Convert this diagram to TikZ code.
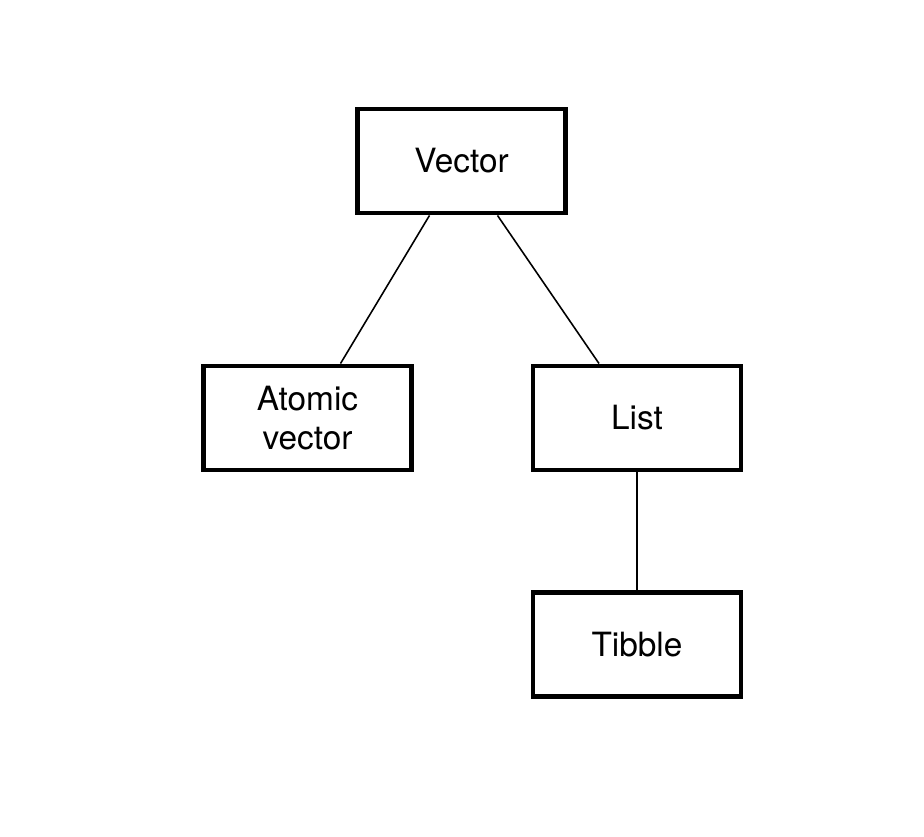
\documentclass[tikz,border=0pt]{standalone}
\usepackage{fontspec}
\setmainfont{TeX Gyre Heros}
\usetikzlibrary{positioning}

\begin{document}
\begin{tikzpicture}[x=0.02cm,y=-0.02cm,
    typebox/.style={draw,line width=2.8pt,minimum width=4.16cm,minimum height=2.08cm,
      inner sep=0pt,align=center,font=\fontsize{19}{21.8}\selectfont}]
  \useasboundingbox (0,0) rectangle (924,837);
  \node[typebox] (vec) at (461.5,161) {Vector};
  \node[typebox] (atom) at (307.5,418) {Atomic\\vector};
  \node[typebox] (lst) at (637,418) {List};
  \node[typebox,below=2.36cm of lst] (tib) {Tibble};
  \path[line width=0.9pt]
    ([xshift=-0.64cm]vec.south) edge ([xshift=0.66cm]atom.north)
    ([xshift=0.72cm]vec.south) edge ([xshift=-0.76cm]lst.north)
    (lst) edge (tib);
\end{tikzpicture}
\end{document}
